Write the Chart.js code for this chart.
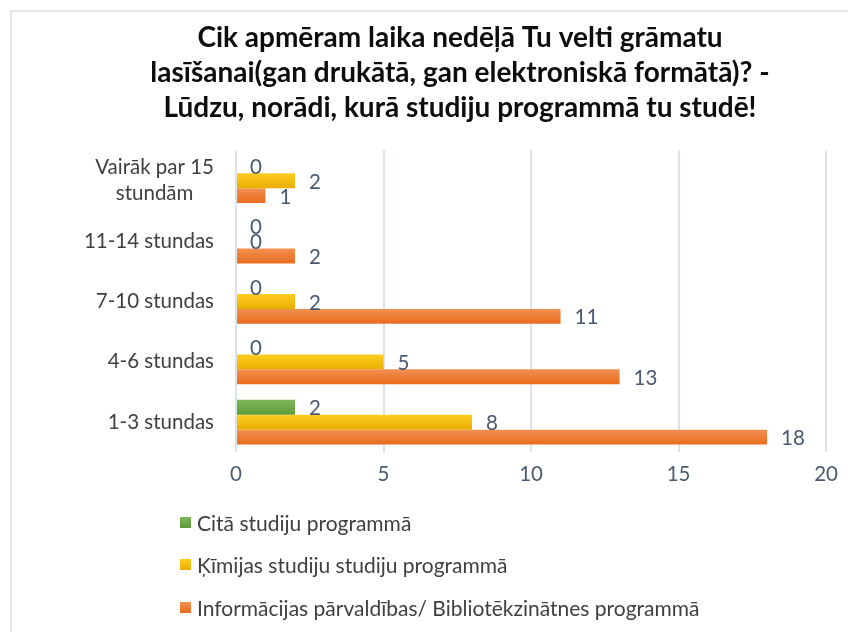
<!DOCTYPE html>
<html lang="lv">
<head>
<meta charset="utf-8">
<script src="https://cdn.jsdelivr.net/npm/chart.js@4.4.1/dist/chart.umd.min.js"></script>
<style>
    html, body { margin: 0; padding: 0; background: #fff; overflow: hidden; }
    #wrap { position: relative; width: 848px; height: 632px; }
    #frame { position: absolute; left: 10px; top: 10px; width: 860px; height: 640px; border: 2px solid #E2E5EB; box-sizing: border-box; pointer-events: none; }
    #chart { position: absolute; left: 0; top: 0; }
    #legend { position: absolute; left: 180px; top: 501px; font-family: 'Lato', sans-serif; font-size: 21px; color: #404040; }
    .leg-row { display: flex; align-items: center; height: 42.5px; }
    .leg-box { width: 11px; height: 11px; margin-right: 6px; }
</style>
</head>
<body>
<div id="wrap">
    <canvas id="chart" width="848" height="632"></canvas>
    <div id="frame"></div>
    <div id="legend"></div>
</div>
<script>
// ==================== DATOS ====================
const TITULO = [
    'Cik apmēram laika nedēļā Tu velti grāmatu',
    'lasīšanai(gan drukātā, gan elektroniskā formātā)? -',
    'Lūdzu, norādi, kurā studiju programmā tu studē!',
];

const CATEGORIAS = [
    ['Vairāk par 15', 'stundām'],
    '11-14 stundas',
    '7-10 stundas',
    '4-6 stundas',
    '1-3 stundas',
];

const SERIES = [
    'Citā studiju programmā',
    'Ķīmijas studiju studiju programmā',
    'Informācijas pārvaldības/ Bibliotēkzinātnes programmā',
];

const CITA = [0, 0, 0, 0, 2];
const KIMIJA = [2, 0, 2, 5, 8];
const INFO = [1, 2, 11, 13, 18];

const X_MIN = 0, X_MAX = 20, X_STEP = 5;

// colores: [base, arriba, abajo]
const COLORES = [
    ['#70AD47', '#7DB75A', '#5E9B38'],
    ['#FFC000', '#FFCD22', '#E9AE00'],
    ['#ED7D31', '#F29050', '#E86C1E'],
];

// ==================== PLUGINS ====================
const degradado = {
    id: 'degradado',
    beforeDatasetsDraw(chart) {
        const ctx = chart.ctx;
        chart.data.datasets.forEach((ds, di) => {
            const meta = chart.getDatasetMeta(di);
            meta.data.forEach(bar => {
                const top = bar.y - bar.height / 2;
                const g = ctx.createLinearGradient(0, top, 0, top + bar.height);
                g.addColorStop(0, COLORES[di][1]);
                g.addColorStop(1, COLORES[di][2]);
                bar.options.backgroundColor = g;
            });
        });
    },
};

const etiquetas = {
    id: 'etiquetas',
    afterDatasetsDraw(chart) {
        const ctx = chart.ctx;
        ctx.save();
        ctx.font = "20.5px 'Lato', sans-serif";
        ctx.fillStyle = '#4A5870';
        ctx.textAlign = 'left';
        ctx.textBaseline = 'middle';
        chart.data.datasets.forEach((ds, di) => {
            chart.getDatasetMeta(di).data.forEach((bar, i) => {
                ctx.fillText(String(ds.data[i]), bar.x + 14, bar.y + 1.5);
            });
        });
        ctx.restore();
    },
};

const categorias = {
    id: 'categorias',
    afterDraw(chart) {
        const ctx = chart.ctx;
        const ys = chart.scales.y;
        const derecha = chart.chartArea.left - 22;
        ctx.save();
        ctx.font = "20.5px 'Lato', sans-serif";
        ctx.fillStyle = '#404040';
        ctx.textBaseline = 'middle';
        ctx.textAlign = 'center';
        CATEGORIAS.forEach((lab, i) => {
            const lineas = Array.isArray(lab) ? lab : [lab];
            const ancho = Math.max(...lineas.map(l => ctx.measureText(l).width));
            const cx = derecha - ancho / 2;
            const cy = ys.getPixelForTick(i);
            const lh = 26;
            lineas.forEach((l, k) => {
                ctx.fillText(l, cx, cy + (k - (lineas.length - 1) / 2) * lh);
            });
        });
        ctx.restore();
    },
};

// ==================== GRÁFICO ====================
const datosSeries = [CITA, KIMIJA, INFO];

const chart = new Chart(document.getElementById('chart'), {
    type: 'bar',
    data: {
        labels: CATEGORIAS,
        datasets: SERIES.map((nombre, i) => ({
            label: nombre,
            data: datosSeries[i],
            backgroundColor: () => COLORES[i][0],
            borderWidth: 0,
            categoryPercentage: 0.74,
            barPercentage: 1,
        })),
    },
    options: {
        indexAxis: 'y',
        responsive: false,
        animation: false,
        events: [],
        layout: { padding: { left: 82, right: 10, top: 0, bottom: 135 } },
        plugins: {
            legend: { display: false },
            tooltip: { enabled: false },
            title: {
                display: true,
                text: TITULO,
                color: '#0D0D0D',
                font: { family: "'Lato', sans-serif", size: 28, weight: 'bold', lineHeight: 1.25 },
                padding: { top: 20.5, bottom: 25 },
            },
        },
        scales: {
            x: {
                min: X_MIN,
                max: X_MAX,
                ticks: {
                    stepSize: X_STEP,
                    color: '#4E5B6E',
                    font: { family: "'Lato', sans-serif", size: 20.5 },
                    padding: 10,
                },
                grid: { color: '#DDE2EA', lineWidth: 2, drawTicks: false },
                border: { display: false },
            },
            y: {
                ticks: { display: false },
                grid: { display: false },
                border: { display: false },
                afterFit(s) { s.width = 154; },
            },
        },
    },
    plugins: [degradado, etiquetas, categorias],
});

// leyenda en HTML
document.getElementById('legend').innerHTML = SERIES.map((nombre, i) => `
    <div class="leg-row">
        <span class="leg-box" style="background:linear-gradient(${COLORES[i][1]}, ${COLORES[i][2]})"></span>
        <span>${nombre}</span>
    </div>
`).join('');
</script>
</body>
</html>
